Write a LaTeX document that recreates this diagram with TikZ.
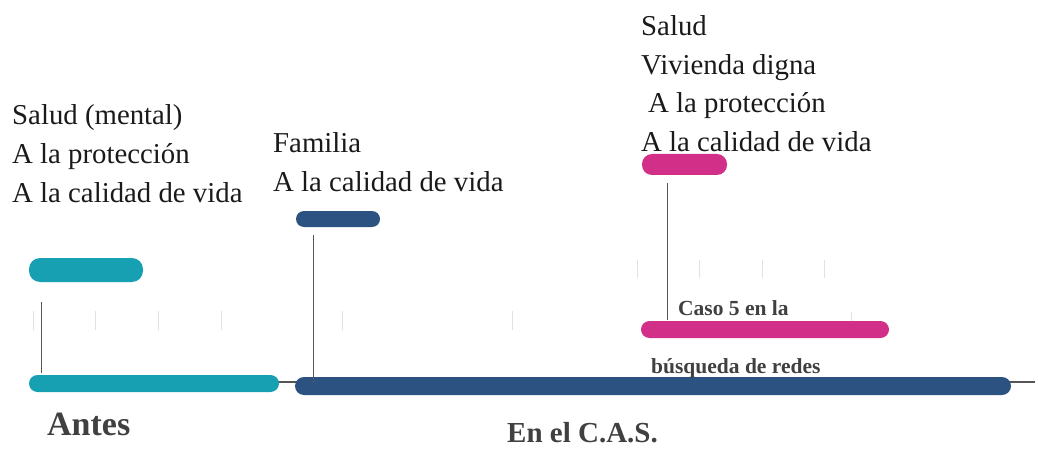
\documentclass[tikz,border=0pt]{standalone}
\usepackage{fontspec}
\setmainfont{Liberation Serif}
\definecolor{cteal}{HTML}{17A0B2}
\definecolor{cnavy}{HTML}{2C5282}
\definecolor{cpink}{HTML}{D12F88}
\definecolor{caxis}{HTML}{555555}
\definecolor{ctick}{HTML}{E2E2E2}
\definecolor{cbold}{HTML}{404040}
\definecolor{ctext}{HTML}{1A1A1A}
\begin{document}
\begin{tikzpicture}[x=1pt,y=-1pt,
  bar/.style={draw=none,inner sep=0pt,outer sep=0pt},
  txt/.style={anchor=base west,inner sep=0pt,text=ctext,font=\fontsize{28.8}{39}\selectfont},
  boldtxt/.style={anchor=base west,inner sep=0pt,text=cbold},
  tick/.style={draw=ctick,line width=1pt},
  conn/.style={draw=caxis,line width=1pt},
  axis/.style={draw=caxis,line width=1.3pt}]
\useasboundingbox (0,0) rectangle (1038,449);
% faint ticks
\foreach \tx in {33,95,158,221,342,512} \draw[tick] (\tx,311) -- (\tx,330);
\foreach \tx in {637,699,762,824} \draw[tick] (\tx,260) -- (\tx,278);
\draw[tick] (851,312) -- (851,330);
% axis
\coordinate (axstart) at (40,382);
\coordinate (axend) at (1035,382);
\draw[axis] (axstart) -- (axend);
% bars
\node[bar,fill=cteal,minimum width=250pt,minimum height=17pt,rounded corners=8.5pt] (tealA) at (154,383.5) {};
\node[bar,fill=cnavy,minimum width=716pt,minimum height=18pt,rounded corners=9pt] (navyA) at (653,386) {};
\node[bar,fill=cteal,minimum width=114pt,minimum height=24pt,rounded corners=11pt] (tealB) at (86,270) {};
\node[bar,fill=cnavy,minimum width=84pt,minimum height=16pt,rounded corners=8pt] (navyB) at (338,219) {};
\node[bar,fill=cpink,minimum width=85pt,minimum height=21pt,rounded corners=10pt] (pinkB) at (684.5,164.5) {};
\node[bar,fill=cpink,minimum width=248pt,minimum height=17pt,rounded corners=8.5pt] (pinkA) at (765,329.5) {};
% connectors
\coordinate (c1a) at (41,302); \coordinate (c1b) at (41,373);
\coordinate (c2a) at (313,235); \coordinate (c2b) at (313,383);
\coordinate (c3a) at (667,183); \coordinate (c3b) at (667,320);
\draw[conn] (c1a) -- (c1b);
\draw[conn] (c2a) -- (c2b);
\draw[conn] (c3a) -- (c3b);
% texts left
\node[txt] (l1) at (12,125) {Salud (mental)};
\node[txt] (l2) at (12,163.5) {A la protección};
\node[txt] (l3) at (12,202) {A la calidad de vida};
% texts middle
\node[txt] (m1) at (273,153) {Familia};
\node[txt] (m2) at (273,192) {A la calidad de vida};
% texts right
\node[txt] (r1) at (641,36) {Salud};
\node[txt] (r2) at (641,75) {Vivienda digna};
\node[txt] (r3) at (648,113) {A la protección};
\node[txt] (r4) at (641,152) {A la calidad de vida};
% bold labels
\node[boldtxt,font=\fontsize{21.5}{24}\selectfont\bfseries] (caso) at (678,315) {Caso 5 en la};
\node[boldtxt,font=\fontsize{21.5}{24}\selectfont\bfseries] (busq) at (651,373) {búsqueda de redes};
\node[boldtxt,font=\fontsize{34}{38}\selectfont\bfseries] (antes) at (47,435) {Antes};
\node[boldtxt,font=\fontsize{29}{32}\selectfont\bfseries] (encas) at (507,442) {En el C.A.S.};
\end{tikzpicture}
\end{document}
